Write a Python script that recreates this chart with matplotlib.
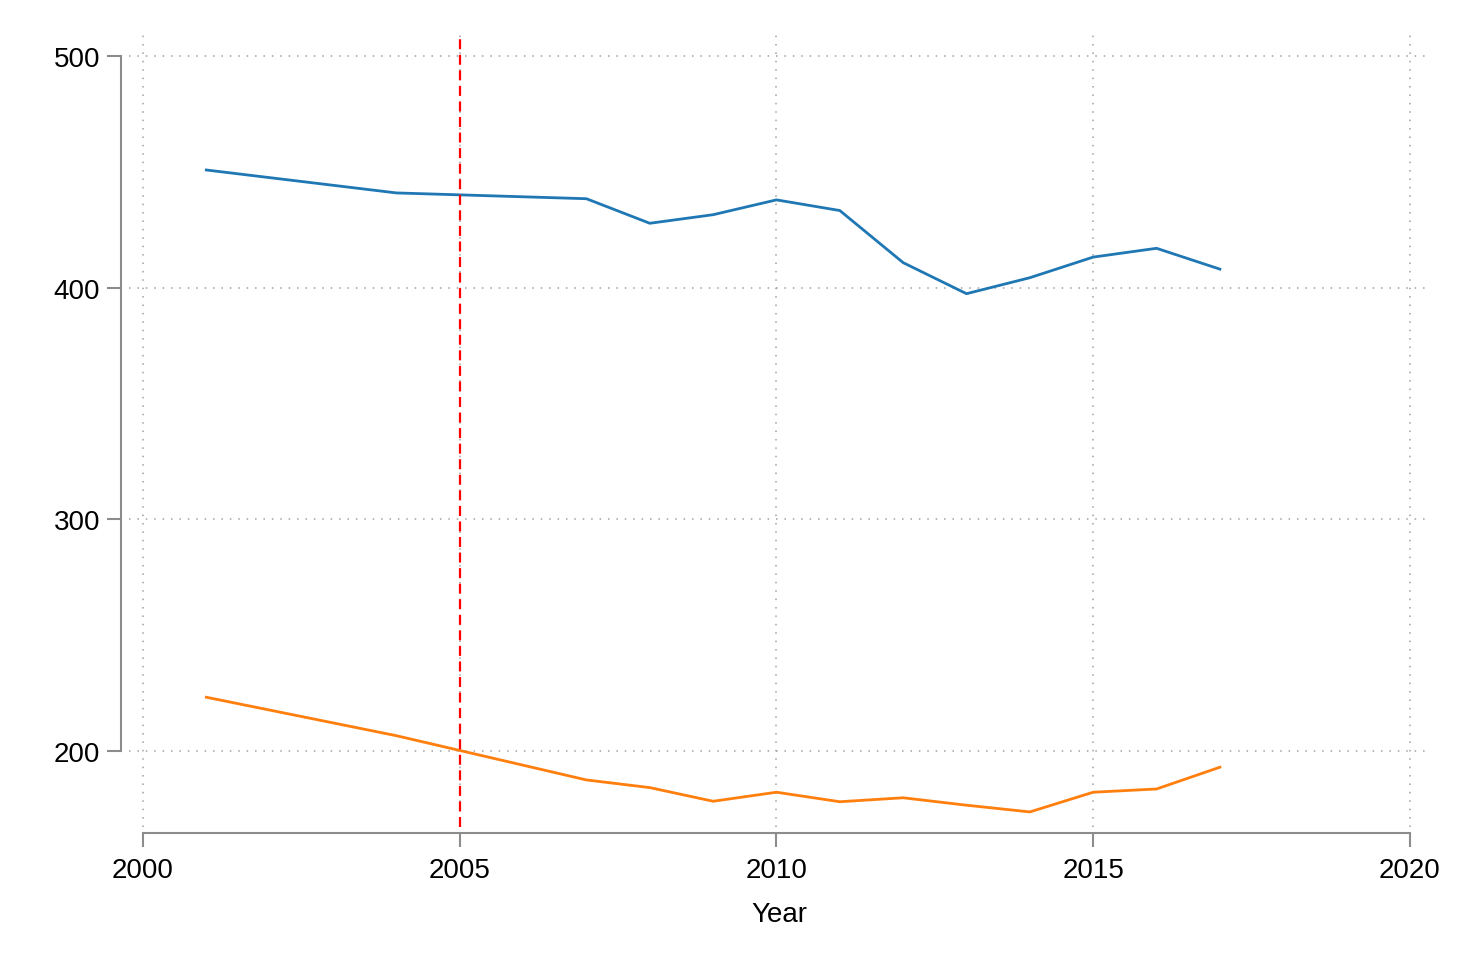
import matplotlib
matplotlib.use("Agg")
import matplotlib.pyplot as plt

plt.rcParams['font.family'] = ['Liberation Sans', 'DejaVu Sans']

years = [2001, 2004, 2007, 2008, 2009, 2010, 2011, 2012, 2013, 2014, 2015, 2016, 2017]
series_a = [450.8, 440.9, 438.4, 427.8, 431.5, 437.9, 433.3, 410.8, 397.4, 404.3, 413.2, 417.0, 408.0]
series_b = [223.2, 206.6, 187.5, 184.2, 178.3, 182.2, 178.1, 179.8, 176.6, 173.7, 182.2, 183.6, 193.0]
x_ticks = [2000, 2005, 2010, 2015, 2020]
y_ticks = [200, 300, 400, 500]
event_year = 2005

fig = plt.figure(figsize=(14.68, 9.78), dpi=100)
ax = fig.add_axes([0.0879, 0.1534, 0.8855, 0.8108])

grid_kw = dict(color='#a0a0a0', linestyle=(0, (1, 4.5)), linewidth=1.1, zorder=0)
for xt in x_ticks:
    ax.axvline(xt, **grid_kw)
for yt in y_ticks:
    ax.axhline(yt, **grid_kw)

ax.plot(years, series_a, color='#1f77b4', linewidth=2.0, zorder=3)
ax.plot(years, series_b, color='#ff7f0e', linewidth=2.0, zorder=3)
ax.axvline(event_year, color='red', linewidth=1.6, linestyle=(0, (4.5, 2.5)), zorder=4)

ax.set_xlim(1999.78, 2020.30)
ax.set_ylim(167.2, 509.5)
ax.set_xticks(x_ticks)
ax.set_yticks(y_ticks)

for s in ['top', 'right']:
    ax.spines[s].set_visible(False)
spine_col = '#8c8c8c'
ax.spines['left'].set_position(('outward', 5.8))
ax.spines['bottom'].set_position(('outward', 4.3))
ax.spines['left'].set_bounds(200, 500)
ax.spines['bottom'].set_bounds(2000, 2020)
for s in ['left', 'bottom']:
    ax.spines[s].set_color(spine_col)
    ax.spines[s].set_linewidth(1.5)

ax.tick_params(axis='both', direction='out', length=10, width=1.5, color=spine_col,
               labelsize=20, labelcolor='black')
ax.tick_params(axis='y', pad=5)
ax.tick_params(axis='x', pad=7)
ax.set_xlabel('Year', fontsize=20, labelpad=13)

fig.savefig('out.png', dpi=100, facecolor='white')
